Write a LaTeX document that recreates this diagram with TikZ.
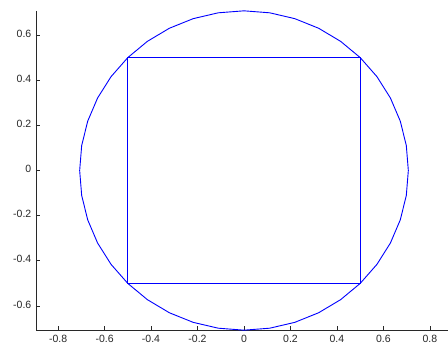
\documentclass[tikz,border=0pt]{standalone}
\usepackage{fontspec}
\newfontfamily\axisfont{Liberation Sans}
\usepackage{xcolor}
\definecolor{axisgray}{RGB}{40,40,40}
\definecolor{plotblue}{RGB}{0,0,255}
\usetikzlibrary{positioning}
\tikzset{
  axisline/.style={axisgray, line width=0.8pt},
  tickmark/.style={axisgray, line width=0.8pt},
  ticklabel/.style={axisgray, inner sep=0pt,
                    font=\axisfont\fontsize{10.5}{12}\selectfont},
  curve/.style={plotblue, line width=0.9pt},
}

\begin{document}
\begin{tikzpicture}[x=232.4pt, y=225.8pt]
  \useasboundingbox (-1.0499,-0.7817) rectangle (0.8778,0.7551);
  \fill[white] (-1.0499,-0.7817) rectangle (0.8778,0.7551);

  % axes (box off)
  \coordinate (origin) at (-0.895,-0.7071);
  \coordinate (ytop) at (-0.895,0.7071);
  \coordinate (xend) at (0.8778,-0.7071);
  \draw[axisline] (ytop) -- (origin) -- (xend);

  % x ticks
  \foreach \t/\lbl [count=\i] in {-0.8/-0.8,-0.6/-0.6,-0.4/-0.4,-0.2/-0.2,
                                 0/0,0.2/0.2,0.4/0.4,0.6/0.6,0.8/0.8}{
    \coordinate (xt\i) at (\t,-0.7071);
    \draw[tickmark] (xt\i) -- ++(0,4pt);
    \node[ticklabel, anchor=north, yshift=-5pt] (xl\i) at (xt\i) {\lbl};
  }

  % y ticks
  \foreach \t/\lbl [count=\i] in {-0.6/-0.6,-0.4/-0.4,-0.2/-0.2,
                                 0/0,0.2/0.2,0.4/0.4,0.6/0.6}{
    \coordinate (yt\i) at (-0.895,\t);
    \draw[tickmark] (yt\i) -- ++(4pt,0);
    \node[ticklabel, anchor=east, xshift=-4.5pt, yshift=1.5pt] (yl\i) at (yt\i) {\lbl};
  }

  % circle through the corners
  \draw[curve] plot[domain=0:360, samples=41]
    ({0.7071*cos(\x)},{0.7071*sin(\x)}) -- cycle;

  % inscribed square
  \coordinate (sqA) at (-0.5,-0.5);
  \coordinate (sqC) at (0.5,0.5);
  \draw[curve] (sqA) rectangle (sqC);
\end{tikzpicture}
\end{document}
